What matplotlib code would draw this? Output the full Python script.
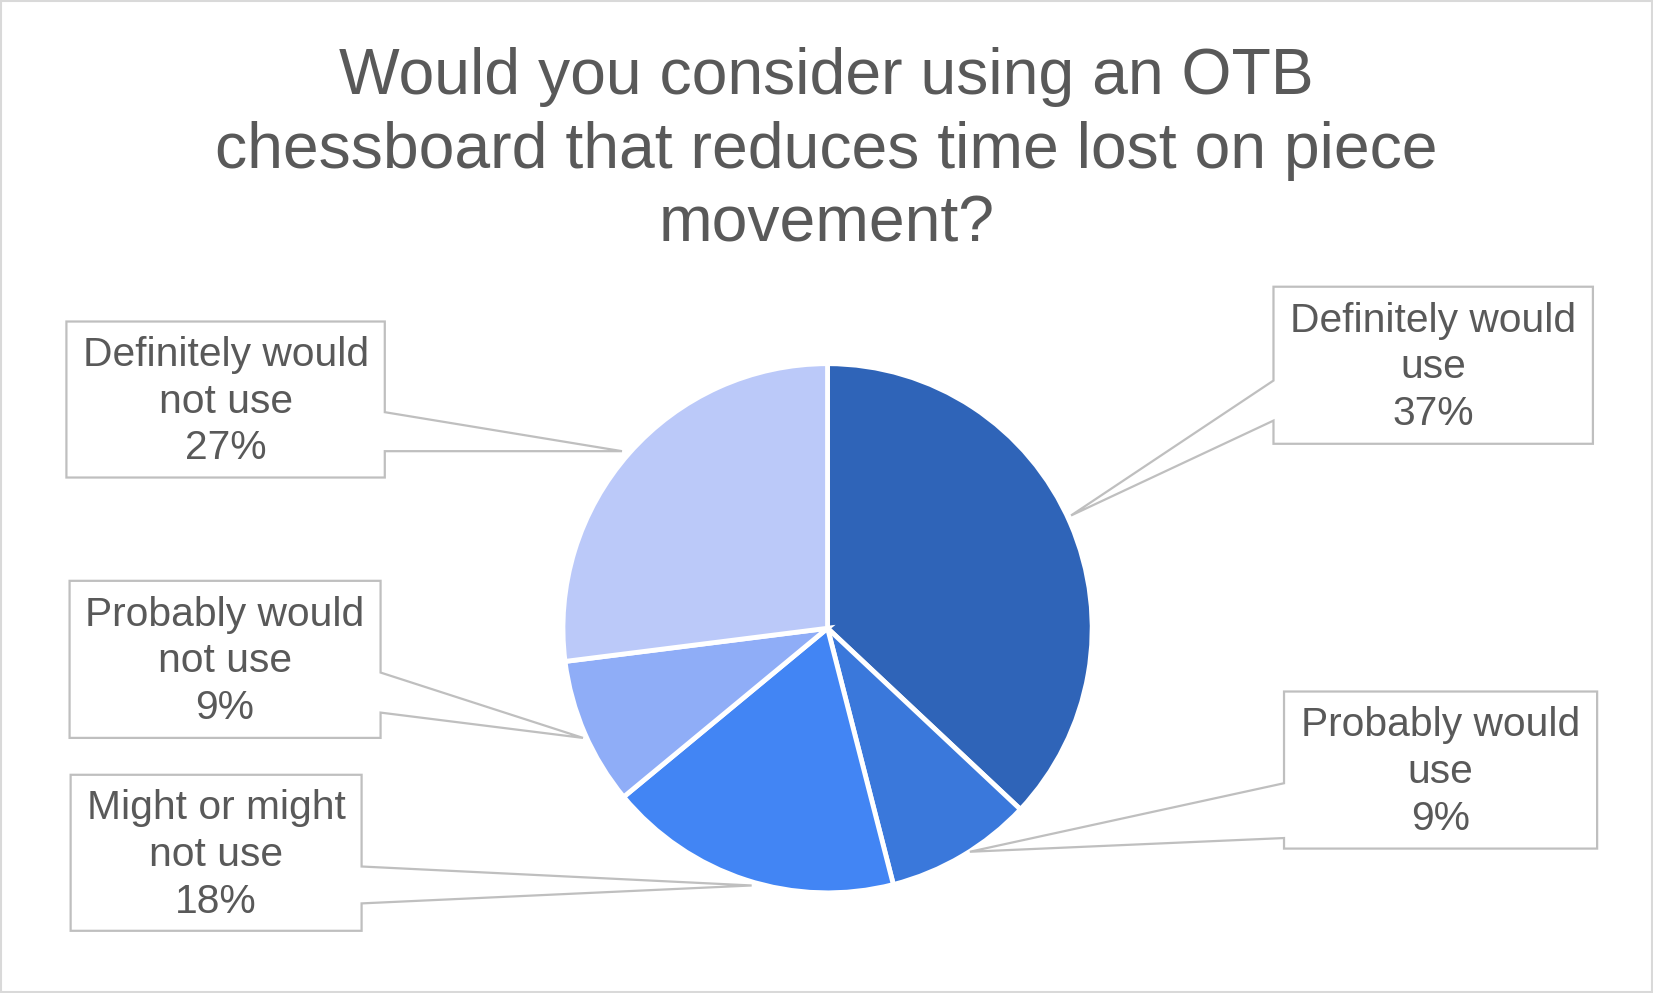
import matplotlib
matplotlib.use("Agg")
import matplotlib.pyplot as plt
from matplotlib.patches import Polygon, Rectangle

plt.rcParams['font.family'] = ['Liberation Sans', 'DejaVu Sans']

# data
categories = ["Definitely would use", "Probably would use", "Might or might not use",
              "Probably would not use", "Definitely would not use"]
values = [37, 9, 18, 9, 27]
box_labels = ["Definitely would\nuse", "Probably would\nuse", "Might or might\nnot use",
              "Probably would\nnot use", "Definitely would\nnot use"]
colors = ["#2F64B8", "#3A78DB", "#4285F4", "#8FADF7", "#BBC9F9"]
title = "Would you consider using an OTB\nchessboard that reduces time lost on piece\nmovement?"

# layout in reference pixel space (1568 x 942, y down)
W, H = 1568, 942
center = (785, 596)
radius = 251
# box: left, right, top, bottom, side of pointer, gap y1, gap y2, tip
boxes = [
    (1208, 1511, 272, 421, "left", 361, 399, (1016, 489)),
    (1218, 1515, 656, 805, "left", 743, 795, (920, 808)),
    (67, 343, 735, 883, "right", 822, 857, (713, 840)),
    (66, 361, 551, 700, "right", 638, 676, (553, 700)),
    (63, 365, 305, 453, "right", 391, 428, (590, 428)),
]

text_color = "#595959"
line_color = "#BFBFBF"


def fy(y):
    return H - y


fig = plt.figure(figsize=(16.53, 9.93), dpi=100)
ax = fig.add_axes([0, 0, 1, 1])

ax.pie(values, colors=colors, startangle=90, counterclock=False,
       center=(center[0], fy(center[1])), radius=radius,
       wedgeprops=dict(edgecolor="white", linewidth=3.5))

for (l, r, t, b, side, g1, g2, tip), lab, v in zip(boxes, box_labels, values):
    if side == "left":
        pts = [(l, t), (r, t), (r, b), (l, b), (l, g2), tip, (l, g1)]
    else:
        pts = [(l, t), (r, t), (r, g1), tip, (r, g2), (r, b), (l, b)]
    pts = [(x, fy(y)) for x, y in pts]
    ax.add_patch(Polygon(pts, closed=True, facecolor="white",
                         edgecolor=line_color, linewidth=1.6, zorder=3))
    ax.text((l + r) / 2, fy((t + b) / 2 + 2), f"{lab}\n{v}%", ha="center", va="center",
            fontsize=29.3, color=text_color, linespacing=1.29, zorder=4)

ax.text(W / 2, fy(143), title, ha="center", va="center", fontsize=46.3,
        color=text_color, linespacing=1.3)

# outer chart border
ax.add_patch(Rectangle((1, 1), W - 2, H - 2, fill=False, edgecolor="#D9D9D9", linewidth=1.5))

ax.set_xlim(0, W)
ax.set_ylim(0, H)
ax.set_aspect("auto")
ax.axis("off")

fig.savefig("out.png", dpi=100, facecolor="white")
